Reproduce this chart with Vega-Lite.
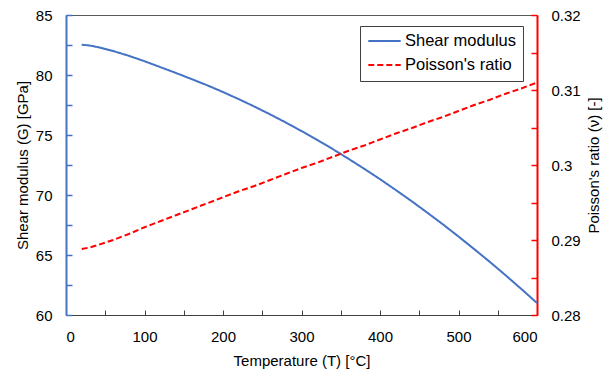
{
  "$schema": "https://vega.github.io/schema/vega-lite/v6.json",
  "width": 471,
  "height": 300,
  "autosize": "none",
  "padding": {"left": 66, "top": 15, "right": 66, "bottom": 54},
  "background": "white",
  "config": {
    "font": "Liberation Sans",
    "view": {"stroke": "#595959", "strokeWidth": 1},
    "axis": {
      "grid": false,
      "labelFontSize": 15,
      "titleFontSize": 15,
      "labelColor": "#000000",
      "titleColor": "#000000",
      "titleFontWeight": "normal",
      "ticks": false,
      "labelPadding": 14
    }
  },
  "data": {
    "values": [
      {"T": 20, "G": 82.52, "nu": 0.2888},
      {"T": 30, "G": 82.46, "nu": 0.289},
      {"T": 40, "G": 82.33, "nu": 0.2893},
      {"T": 60, "G": 82.0, "nu": 0.29},
      {"T": 80, "G": 81.6, "nu": 0.2908},
      {"T": 100, "G": 81.15, "nu": 0.2917},
      {"T": 120, "G": 80.66, "nu": 0.2925},
      {"T": 140, "G": 80.17, "nu": 0.2933},
      {"T": 160, "G": 79.66, "nu": 0.2941},
      {"T": 180, "G": 79.14, "nu": 0.2949},
      {"T": 200, "G": 78.58, "nu": 0.2957},
      {"T": 220, "G": 77.99, "nu": 0.2965},
      {"T": 240, "G": 77.37, "nu": 0.2972},
      {"T": 260, "G": 76.72, "nu": 0.298},
      {"T": 280, "G": 76.04, "nu": 0.2988},
      {"T": 300, "G": 75.33, "nu": 0.2996},
      {"T": 320, "G": 74.59, "nu": 0.3003},
      {"T": 340, "G": 73.82, "nu": 0.3011},
      {"T": 360, "G": 73.01, "nu": 0.3019},
      {"T": 380, "G": 72.18, "nu": 0.3026},
      {"T": 400, "G": 71.32, "nu": 0.3034},
      {"T": 420, "G": 70.42, "nu": 0.3042},
      {"T": 440, "G": 69.5, "nu": 0.3049},
      {"T": 460, "G": 68.54, "nu": 0.3057},
      {"T": 480, "G": 67.56, "nu": 0.3064},
      {"T": 500, "G": 66.54, "nu": 0.3072},
      {"T": 520, "G": 65.49, "nu": 0.308},
      {"T": 540, "G": 64.42, "nu": 0.3087},
      {"T": 560, "G": 63.31, "nu": 0.3095},
      {"T": 580, "G": 62.17, "nu": 0.3102},
      {"T": 600, "G": 61.0, "nu": 0.311}
    ]
  },
  "layer": [
    {
      "mark": {"type": "line", "opacity": 0},
      "encoding": {
        "x": {
          "field": "T",
          "type": "quantitative",
          "scale": {"domain": [0, 600], "nice": false},
          "axis": {
            "title": null,
            "orient": "bottom",
            "values": [0, 50, 100, 150, 200, 250, 300, 350, 400, 450, 500, 550, 600],
            "labels": false,
            "domain": false,
            "ticks": true,
            "tickSize": 5,
            "tickColor": "#404040",
            "offset": -5
          }
        },
        "y": {
          "field": "G",
          "type": "quantitative",
          "scale": {"domain": [60, 85], "nice": false, "zero": false},
          "axis": {
            "title": null,
            "orient": "left",
            "values": [60, 62.5, 65, 67.5, 70, 72.5, 75, 77.5, 80, 82.5, 85],
            "labels": false,
            "domain": false,
            "ticks": true,
            "tickSize": 6,
            "tickWidth": 1.5,
            "tickColor": "#4472C4",
            "offset": -6
          }
        }
      }
    },
    {
      "mark": {"type": "line", "opacity": 0},
      "encoding": {
        "x": {"field": "T", "type": "quantitative", "axis": null},
        "y": {
          "field": "nu",
          "type": "quantitative",
          "scale": {"domain": [0.28, 0.32], "nice": false, "zero": false},
          "axis": {
            "title": null,
            "orient": "right",
            "values": [0.28, 0.285, 0.29, 0.295, 0.3, 0.305, 0.31, 0.315, 0.32],
            "labels": false,
            "domain": false,
            "ticks": true,
            "tickSize": 6,
            "tickWidth": 1.5,
            "tickColor": "#FF0000",
            "offset": -6
          }
        }
      }
    },
    {
      "mark": {"type": "line", "strokeWidth": 2},
      "encoding": {
        "x": {
          "field": "T",
          "type": "quantitative",
          "axis": {
            "title": "Temperature (T) [°C]",
            "orient": "bottom",
            "values": [0, 100, 200, 300, 400, 500, 600],
            "domainColor": "#404040",
            "titlePadding": 9
          }
        },
        "y": {
          "field": "G",
          "type": "quantitative",
          "scale": {"domain": [60, 85], "nice": false, "zero": false},
          "axis": {
            "title": "Shear modulus (G) [GPa]",
            "orient": "left",
            "values": [60, 65, 70, 75, 80, 85],
            "domainColor": "#4472C4",
            "domainWidth": 2,
            "titlePadding": 5
          }
        },
        "color": {
          "datum": "Shear modulus",
          "type": "nominal",
          "scale": {"domain": ["Shear modulus", "Poisson's ratio"], "range": ["#4472C4", "#FF0000"]},
          "legend": {
            "title": null,
            "orient": "none",
            "legendX": 294,
            "legendY": 11,
            "strokeColor": "#404040",
            "fillColor": "white",
            "padding": 7,
            "labelFontSize": 16.5,
            "labelColor": "#000000",
            "symbolType": "stroke",
            "symbolSize": 1050,
            "symbolStrokeWidth": 2,
            "labelOffset": 3,
            "clipHeight": 16,
            "rowPadding": 7
          }
        },
        "strokeDash": {
          "datum": "Shear modulus",
          "type": "nominal",
          "scale": {"domain": ["Shear modulus", "Poisson's ratio"], "range": [[1, 0], [6, 3]]},
          "legend": {
            "title": null,
            "orient": "none",
            "legendX": 294,
            "legendY": 11,
            "strokeColor": "#404040",
            "fillColor": "white",
            "padding": 7,
            "labelFontSize": 16.5,
            "labelColor": "#000000",
            "symbolType": "stroke",
            "symbolSize": 1050,
            "symbolStrokeWidth": 2,
            "labelOffset": 3,
            "clipHeight": 16,
            "rowPadding": 7
          }
        }
      }
    },
    {
      "mark": {"type": "line", "strokeWidth": 2},
      "encoding": {
        "x": {"field": "T", "type": "quantitative", "axis": null},
        "y": {
          "field": "nu",
          "type": "quantitative",
          "scale": {"domain": [0.28, 0.32], "nice": false, "zero": false},
          "axis": {
            "title": "Poisson's ratio (ν) [-]",
            "orient": "right",
            "values": [0.28, 0.29, 0.3, 0.31, 0.32],
            "format": "~g",
            "domainColor": "#FF0000",
            "domainWidth": 2,
            "titleAngle": 270,
            "titleBaseline": "top",
            "titlePadding": 6
          }
        },
        "color": {"datum": "Poisson's ratio", "type": "nominal"},
        "strokeDash": {"datum": "Poisson's ratio", "type": "nominal"}
      }
    }
  ],
  "resolve": {"scale": {"y": "independent"}, "axis": {"x": "independent", "y": "independent"}}
}
